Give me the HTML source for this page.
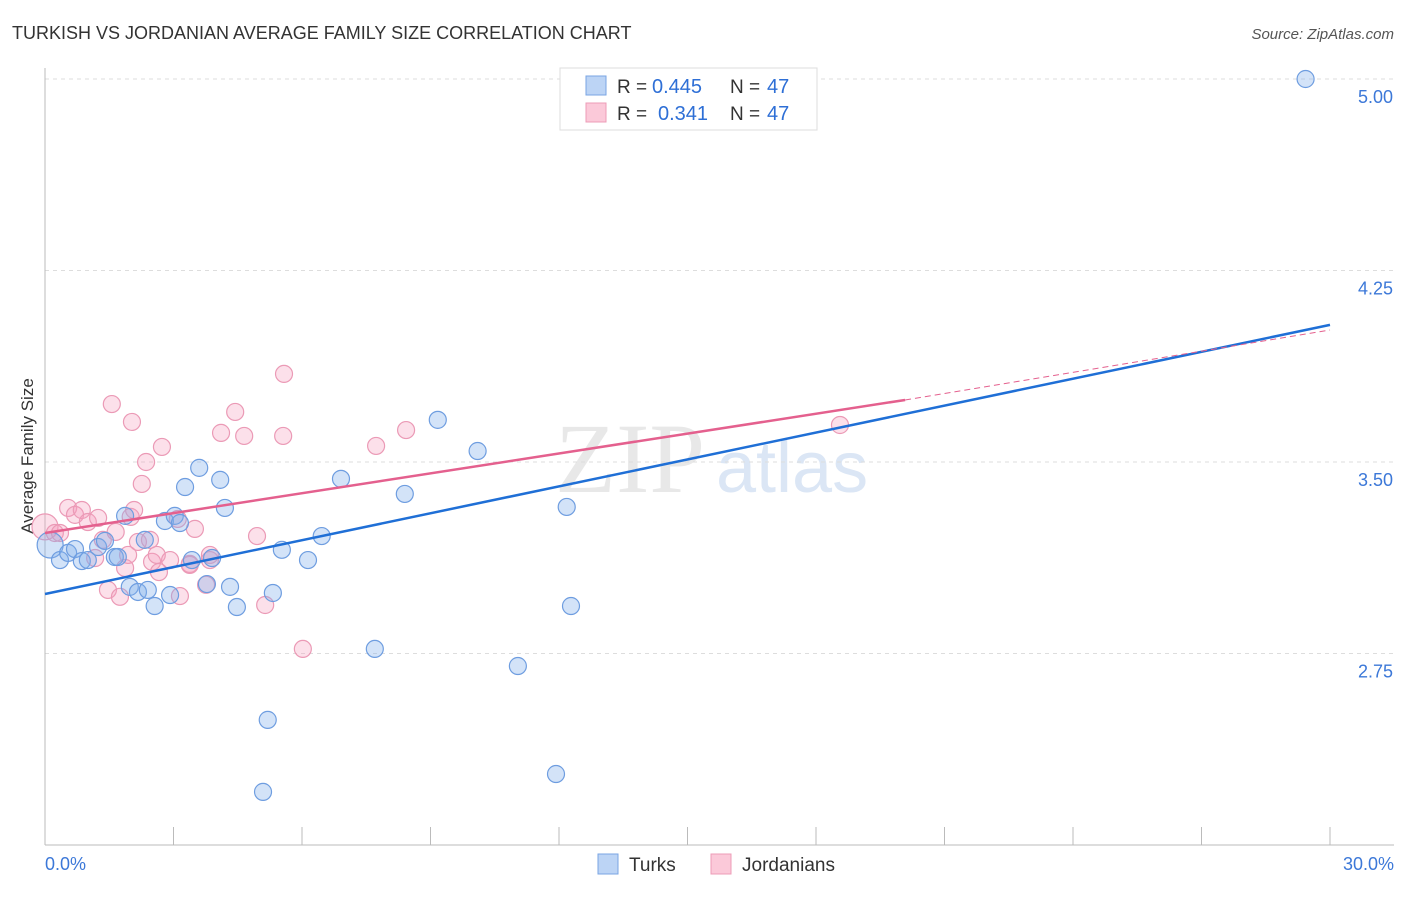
<!DOCTYPE html>
<html><head><meta charset="utf-8"><style>
body{margin:0;background:#fff;font-family:"Liberation Sans",sans-serif;}
svg text{font-family:"Liberation Sans",sans-serif;}
</style></head><body>
<svg id="c" width="1406" height="892">
<text x="12" y="39" font-size="18" fill="#333">TURKISH VS JORDANIAN AVERAGE FAMILY SIZE CORRELATION CHART</text>
<text x="1394" y="39" font-size="15" fill="#555" font-style="italic" text-anchor="end">Source: ZipAtlas.com</text>
<text x="33" y="456" font-size="17" fill="#333" text-anchor="middle" transform="rotate(-90 33 456)">Average Family Size</text>
<text x="555" y="492" font-size="100" fill="#e8e8e8" font-family="Liberation Serif" style="font-family:'Liberation Serif',serif">ZIP</text>
<text x="716" y="492" font-size="72" fill="#dbe6f5">atlas</text>
<g id="grid"></g><g id="pts"></g><g id="lines"></g>
<g>
<rect x="560" y="68" width="257" height="62" fill="#fff" stroke="#ddd"/>
<rect x="586" y="76" width="20" height="19" fill="#bcd4f5" stroke="#7aa5e3"/>
<rect x="586" y="103" width="20" height="19" fill="#fbc9d9" stroke="#ec9cb7"/>
<text x="617" y="93" font-size="19" fill="#333">R =</text>
<text x="652" y="93" font-size="20" fill="#2e6fd6">0.445</text>
<text x="730" y="93" font-size="19" fill="#333">N =</text>
<text x="767" y="93" font-size="20" fill="#2e6fd6">47</text>
<text x="617" y="120" font-size="19" fill="#333">R =</text>
<text x="658" y="120" font-size="20" fill="#2e6fd6">0.341</text>
<text x="730" y="120" font-size="19" fill="#333">N =</text>
<text x="767" y="120" font-size="20" fill="#2e6fd6">47</text>
</g>
<g>
<rect x="598" y="854" width="20" height="20" fill="#bcd4f5" stroke="#7aa5e3"/>
<text x="629" y="871" font-size="19" fill="#333">Turks</text>
<rect x="711" y="854" width="20" height="20" fill="#fbc9d9" stroke="#ec9cb7"/>
<text x="742" y="871" font-size="19" fill="#333">Jordanians</text>
</g>
<text x="45" y="870" font-size="18" fill="#3c78d8">0.0%</text>
<text x="1394" y="870" font-size="18" fill="#3c78d8" text-anchor="end">30.0%</text>
</svg>
<script>
const yTicks=[5.00,4.25,3.50,2.75];
const turksX=[0.12,0.35,0.54,0.7,0.86,1.0,1.24,1.4,1.63,1.7,1.87,1.98,2.17,2.33,2.4,2.56,2.8,2.92,3.03,3.15,3.27,3.43,3.6,3.78,3.9,4.09,4.2,4.32,4.48,5.2,5.09,5.32,5.53,6.14,6.46,6.91,7.7,8.4,9.17,10.1,11.04,11.93,12.18,12.28,29.43];
const turksY=[3.175,3.116,3.144,3.159,3.112,3.116,3.167,3.191,3.128,3.128,3.289,3.011,2.991,3.195,2.999,2.936,3.269,2.979,3.289,3.261,3.402,3.116,3.477,3.022,3.124,3.430,3.320,3.011,2.932,2.490,2.208,2.987,3.156,3.116,3.210,3.434,2.768,3.375,3.665,3.543,2.701,2.278,3.324,2.936,5.0];
const jordX=[0.0,0.23,0.54,0.7,0.86,1.0,1.17,1.35,1.47,1.56,1.65,1.75,1.87,1.94,2.0,2.03,2.08,2.17,2.26,2.36,2.5,2.61,2.66,2.73,3.1,3.15,3.38,3.5,3.76,3.85,4.11,4.44,4.65,4.95,5.14,5.56,5.58,6.02,7.73,8.43,18.56,0.35,1.24,2.45,3.38,3.85,2.92];
const jordY=[3.246,3.222,3.320,3.293,3.312,3.265,3.124,3.195,2.999,3.727,3.226,2.972,3.085,3.136,3.285,3.657,3.312,3.187,3.414,3.500,3.109,3.136,3.069,3.559,3.277,2.975,3.101,3.238,3.019,3.116,3.614,3.696,3.602,3.210,2.940,3.602,3.845,2.768,3.563,3.625,3.645,3.222,3.281,3.195,3.097,3.136,3.116];
const X0=45,X1=1330;
const sx=v=>X0+(v/30)*(X1-X0);
const sy=v=>79+(5-v)*191.5/0.75;
const NS='http://www.w3.org/2000/svg';
function mk(t,a,p){const e=document.createElementNS(NS,t);for(const k in a)e.setAttribute(k,a[k]);p.appendChild(e);return e;}
const grid=document.getElementById('grid');
yTicks.forEach(v=>{
 const l=mk('line',{x1:X0,x2:1394,y1:sy(v),y2:sy(v),stroke:'#ddd','stroke-dasharray':'4,4'},grid);
 
 
 const t=mk('text',{x:1393,y:sy(v)+24,'font-size':18,fill:'#3c78d8','text-anchor':'end'},grid);
 t.textContent=v.toFixed(2);
 
 
});
mk('line',{x1:X0,x2:X0,y1:68,y2:845,stroke:'#bbb'},grid);
mk('line',{x1:X0,x2:1394,y1:845,y2:845,stroke:'#bbb'},grid);
for(let i=0;i<=10;i++){const x=sx(i*3);const tk=mk('line',{x1:x,x2:x,y1:827,y2:845,stroke:'#bbb'},grid);
 
 }
const pts=document.getElementById('pts');
jordX.forEach((v,i)=>{const c=mk('circle',{cx:sx(v),cy:sy(jordY[i]),r:i==0?13:8.5,fill:'rgba(245,160,190,0.32)',stroke:'#eb9ab6','stroke-width':1.2},pts);
 
 });
turksX.forEach((v,i)=>{const c=mk('circle',{cx:sx(v),cy:sy(turksY[i]),r:i==0?13:8.5,fill:'rgba(130,175,235,0.35)',stroke:'#6e9de0','stroke-width':1.2},pts);
 
 });
const lines=document.getElementById('lines');
const bl=mk('line',{x1:sx(0),y1:sy(2.983),x2:sx(30),y2:sy(4.037),stroke:'#1f6fd6','stroke-width':2.5},lines);


const pl=mk('line',{x1:sx(0),y1:sy(3.222),x2:sx(20.08),y2:sy(3.743),stroke:'#e4608e','stroke-width':2.5},lines);


const pd=mk('line',{x1:sx(20.08),y1:sy(3.743),x2:sx(30),y2:sy(4.017),stroke:'#e4608e','stroke-width':1,'stroke-dasharray':'6,4'},lines);


</script>
</body></html>
